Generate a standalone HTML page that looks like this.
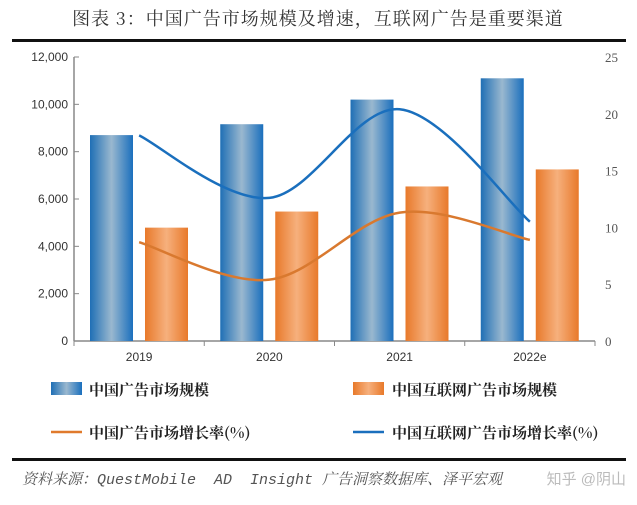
<!DOCTYPE html>
<html><head><meta charset="utf-8"><style>
body{margin:0;background:#fff;width:637px;height:500px;overflow:hidden;font-family:"Liberation Sans","Noto Sans CJK SC",sans-serif}
</style></head><body>
<svg width="637" height="500" xmlns="http://www.w3.org/2000/svg">
<defs>
<linearGradient id="gb" x1="0" x2="1" y1="0" y2="0"><stop offset="0" stop-color="#1f6fb5"/><stop offset="0.5" stop-color="#9ab8cf"/><stop offset="1" stop-color="#1a6fbd"/></linearGradient>
<linearGradient id="go" x1="0" x2="1" y1="0" y2="0"><stop offset="0" stop-color="#e8792a"/><stop offset="0.5" stop-color="#f6b07d"/><stop offset="1" stop-color="#e8792a"/></linearGradient>
</defs>
<text x="318" y="25" text-anchor="middle" font-family="'Noto Serif CJK SC',serif" font-size="18" letter-spacing="1" fill="#333">图表 3：中国广告市场规模及增速，互联网广告是重要渠道</text>
<rect x="12" y="39" width="614" height="3" fill="#111"/>
<g id="plot"></g>
<g font-family="'Noto Serif CJK SC',serif" font-weight="bold" font-size="15" fill="#222">
<rect x="51" y="382" width="31" height="13" fill="url(#gb)"/>
<text x="89" y="395">中国广告市场规模</text>
<rect x="353" y="382" width="31" height="13" fill="url(#go)"/>
<text x="392" y="395">中国互联网广告市场规模</text>
<line x1="51" y1="432" x2="82" y2="432" stroke="#e07a2c" stroke-width="2.5"/>
<text x="89" y="438">中国广告市场增长率(%)</text>
<line x1="353" y1="432" x2="384" y2="432" stroke="#1a6fbd" stroke-width="2.5"/>
<text x="392" y="438">中国互联网广告市场增长率(%)</text>
</g>
<rect x="12" y="458" width="614" height="3" fill="#111"/>
<text x="22" y="484" font-family="'Liberation Mono','Noto Serif CJK SC',monospace" font-style="italic" font-size="15" fill="#555" xml:space="preserve">资料来源：QuestMobile  AD  Insight 广告洞察数据库、泽平宏观</text>
<text x="626" y="484" text-anchor="end" font-size="15" fill="#bbb">知乎 @阴山</text>
</svg>
<script>
const categories=["2019","2020","2021","2022e"];
const adMarket=[8700,9160,10200,11100];
const internetAd=[4790,5470,6530,7250];
const adGrowth=[8.7,5.4,11.3,8.9];
const internetGrowth=[18.1,12.6,20.4,10.5];
const leftTicks=[0,2000,4000,6000,8000,10000,12000];
const rightTicks=[0,5,10,15,20,25];
const NS="http://www.w3.org/2000/svg";
const g=document.getElementById('plot');
const X0=74,X1=595,Y0=341,Y1=57;
const gw=(X1-X0)/categories.length;
const yL=v=>Y0-(v/12000)*(Y0-Y1);
const yR=v=>Y0-(v/25)*(Y0-Y1);
const cx=i=>X0+gw*(i+0.5);
function mk(t,a){const e=document.createElementNS(NS,t);for(const k in a)e.setAttribute(k,a[k]);g.appendChild(e);return e;}
let e;
e=mk('line',{x1:X0,y1:Y1,x2:X0,y2:Y0,stroke:'#888','stroke-width':1.5});


e=mk('line',{x1:X0,y1:Y0,x2:X1,y2:Y0,stroke:'#888','stroke-width':1.5});


leftTicks.forEach(v=>{
 mk('line',{x1:X0,y1:yL(v),x2:X0+5,y2:yL(v),stroke:'#888'});
 e=mk('text',{x:X0-6,y:yL(v)+4,'text-anchor':'end','font-size':12,fill:'#333'});
 e.textContent=v.toLocaleString('en-US');
 
 
});
rightTicks.forEach(v=>{
 e=mk('text',{x:X1+10,y:yR(v)+5,'font-size':13,fill:'#555','font-family':"'Liberation Serif',serif"});
 e.textContent=v;
 
 
});
for(let i=0;i<=categories.length;i++){mk('line',{x1:X0+gw*i,y1:Y0,x2:X0+gw*i,y2:Y0+5,stroke:'#888'});}
categories.forEach((c,i)=>{
 const s=X0+gw*i;
 e=mk('rect',{x:s+16,y:yL(adMarket[i]),width:43,height:Y0-yL(adMarket[i]),fill:'url(#gb)'});
 
 
 e=mk('rect',{x:s+71,y:yL(internetAd[i]),width:43,height:Y0-yL(internetAd[i]),fill:'url(#go)'});
 
 
 e=mk('text',{x:cx(i),y:361,'text-anchor':'middle','font-size':12,fill:'#333'});
 e.textContent=c;
 
 
});
function smooth(vals){
 const p=vals.map((v,i)=>[cx(i),yR(v)]);
 let d='M'+p[0][0]+','+p[0][1];
 for(let i=0;i<p.length-1;i++){
  const a=p[i-1]||p[i],b=p[i],c=p[i+1],n=p[i+2]||c;
  d+=' C'+(b[0]+(c[0]-a[0])/6)+','+(b[1]+(c[1]-a[1])/6)+' '+(c[0]-(n[0]-b[0])/6)+','+(c[1]-(n[1]-b[1])/6)+' '+c[0]+','+c[1];
 }
 return d;
}
e=mk('path',{d:smooth(internetGrowth),fill:'none',stroke:'#1a6fbd','stroke-width':2.5});


e=mk('path',{d:smooth(adGrowth),fill:'none',stroke:'#d9792f','stroke-width':2.5});


</script>
</body></html>
